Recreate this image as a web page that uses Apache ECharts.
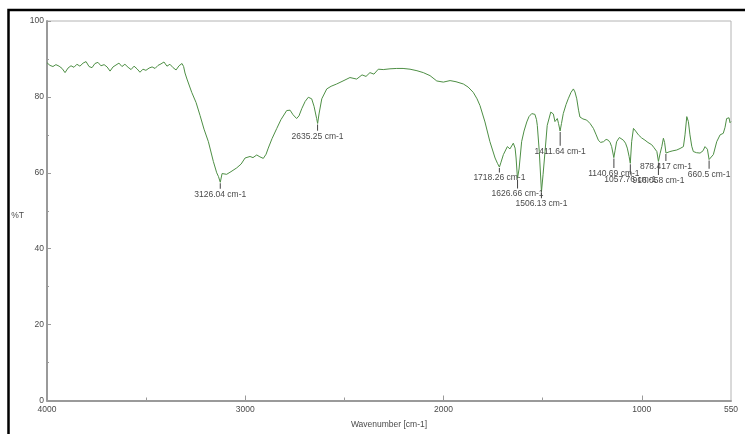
<!DOCTYPE html>
<html>
<head>
<meta charset="utf-8">
<script src="https://cdn.jsdelivr.net/npm/echarts@6/dist/echarts.min.js"></script>
<style>
html,body{margin:0;padding:0;background:#fff;}
#chart{width:745px;height:434px;}
</style>
</head>
<body>
<div id="chart"></div>
<script>
// ---- data ----
const wavenumbers = [
  4000,3985,3970,3955,3939,3924,3909,3894,3879,3864,3849,3834,3818,3803,3788,3773,3758,3743,3728,3712,
  3697,3682,3667,3652,3637,3622,3607,3591,3576,3561,3546,3531,3516,3501,3485,3470,3455,3440,3425,3410,
  3395,3380,3364,3349,3334,3319,3311,3304,3294,3270,3248,3228,3208,3186,3161,3144,3135,3126,3117,3094,
  3072,3043,3021,3001,2976,2961,2942,2926,2909,2895,2884,2865,2841,2820,2791,2774,2759,2741,2729,2715,
  2698,2682,2665,2653,2640,2635,2628,2614,2589,2567,2539,2507,2472,2438,2411,2391,2371,2351,2329,2304,
  2270,2236,2204,2169,2134,2102,2068,2034,2001,1967,1937,1900,1876,1850,1831,1816,1791,1766,1740,1728,
  1718,1710,1698,1678,1665,1648,1639,1634,1627,1619,1606,1594,1580,1569,1555,1539,1531,1527,1517,1506,
  1498,1488,1477,1459,1446,1438,1426,1420,1412,1405,1396,1382,1371,1357,1345,1337,1328,1319,1312,1297,
  1278,1261,1244,1230,1219,1208,1193,1180,1169,1160,1152,1141,1135,1127,1113,1105,1093,1082,1073,1064,
  1058,1051,1042,1031,1017,1001,984,969,950,938,924,916,908,899,891,885,878,870,858,843,
  824,807,790,782,773,765,757,748,740,724,706,691,681,669,660.5,651,639,622,605,589,
  580,572,560,555,550
];
const transmittance = [
  89.0,88.3,88.0,88.5,88.1,87.5,86.4,87.6,88.2,87.8,88.6,88.1,88.9,89.3,88.0,87.7,88.8,89.1,88.2,88.5,
  87.9,86.8,87.9,88.4,88.9,88.0,88.6,87.8,87.2,88.1,87.4,86.5,87.3,87.0,87.6,87.9,87.5,88.3,88.7,89.2,
  88.1,88.6,87.7,87.1,88.2,88.8,88.0,86.3,84.7,81.2,78.5,75.1,71.5,68.2,63.0,60.0,59.0,57.5,59.8,59.6,
  60.3,61.3,62.3,63.9,64.3,64.0,64.7,64.2,63.8,64.9,66.5,69.0,71.7,74.0,76.4,76.5,75.3,74.3,75.0,76.9,
  78.8,79.9,79.5,77.5,74.3,73.0,75.5,79.5,82.1,82.8,83.4,84.2,85.1,84.7,85.8,85.4,86.4,86.0,87.3,87.2,
  87.4,87.5,87.5,87.3,86.9,86.4,85.6,84.2,83.9,84.3,84.0,83.4,82.6,81.2,79.5,77.7,73.4,68.2,63.9,62.5,
  61.5,62.8,64.8,66.9,66.3,67.8,66.5,63.9,58.5,61.0,68.2,71.0,73.4,74.8,75.6,75.4,74.0,72.5,65.6,55.0,
  59.5,65.6,72.5,76.0,75.5,73.5,74.3,73.0,71.0,73.0,75.6,78.0,79.5,81.2,82.1,81.3,79.5,76.5,74.7,74.2,
  73.9,73.0,71.7,70.0,68.6,68.0,68.2,68.8,68.6,68.0,66.9,64.0,65.8,68.2,69.3,69.0,68.6,67.8,66.5,64.3,
  62.5,68.2,71.7,71.0,70.0,69.2,68.6,68.0,67.4,66.6,65.6,63.0,65.0,66.9,69.1,68.0,65.2,65.4,65.6,65.8,
  66.0,66.4,66.9,70.0,74.8,73.5,70.0,67.0,65.6,65.3,65.2,65.8,66.9,66.2,63.5,64.0,64.8,68.2,70.0,70.4,
  72.0,74.3,74.5,73.2,73.5
];
const peakWavenumbers = [3126.04, 2635.25, 1718.26, 1626.66, 1506.13, 1411.64, 1140.69, 1057.76, 916.058, 878.417, 660.5];
const peakTransmittance = [57.5, 73.0, 61.5, 58.5, 55.0, 71.0, 64.0, 62.5, 63.0, 65.2, 63.5];
const peakLabels = ['3126.04 cm-1','2635.25 cm-1','1718.26 cm-1','1626.66 cm-1','1506.13 cm-1','1411.64 cm-1','1140.69 cm-1','1057.76 cm-1','916.058 cm-1','878.417 cm-1','660.5 cm-1'];
const xLabelValues = [4000, 3000, 2000, 1000, 550];
const xMajorTicks = [3000, 2000, 1000];
const xMinorTicks = [3500, 2500, 1500];

// ---- layout (pixel drops of each peak label below its peak) ----
const peakLabelDrop = [12.5, 13.3, 11.5, 16, 12.5, 20.7, 16.4, 17.3, 19.5, 14, 15.2];

const FONT = 'Liberation Sans';
const TXT = '#4a4a4a';
const AX = '#9a9a9a';

const spectrum = wavenumbers.map((w, i) => [w, transmittance[i]]);
const peakPoints = peakWavenumbers.map((w, i) => {
  const len = Math.max(4, peakLabelDrop[i] - 7);
  return {
    coord: [w, peakTransmittance[i]],
    symbolSize: [1, len],
    symbolOffset: [0, len / 2 + 1],
    label: { formatter: peakLabels[i] }
  };
});

const chart = echarts.init(document.getElementById('chart'), null, {renderer: 'canvas'});
chart.setOption({
  animation: false,
  backgroundColor: '#fff',
  textStyle: { fontFamily: FONT },
  grid: { left: 47, right: 14, top: 21, bottom: 28, show: true, borderColor: '#b4b4b4', borderWidth: 1, backgroundColor: 'transparent' },
  graphic: [
    { type: 'rect', shape: { x: 8.5, y: 10, width: 900, height: 900 }, style: { fill: 'none', stroke: '#000', lineWidth: 2.5 }, silent: true }
  ],
  xAxis: [
    {
      type: 'value', inverse: true, min: 550, max: 4000, position: 'bottom',
      name: 'Wavenumber [cm-1]', nameLocation: 'middle', nameGap: 24,
      nameTextStyle: { color: TXT, fontSize: 8.5, fontFamily: FONT, align: 'center', verticalAlign: 'middle' },
      axisLine: { show: true, lineStyle: { color: AX, width: 2 } },
      axisTick: { show: true, inside: true, length: 5, customValues: xMajorTicks, lineStyle: { color: AX, width: 1 } },
      axisLabel: { show: true, customValues: xLabelValues, formatter: v => String(v), color: TXT, fontSize: 8.5, fontFamily: FONT, margin: 5 },
      splitLine: { show: false }
    },
    {
      type: 'value', inverse: true, min: 550, max: 4000, position: 'bottom', offset: 0,
      axisLine: { show: false },
      axisTick: { show: true, inside: true, length: 3, customValues: xMinorTicks, lineStyle: { color: AX, width: 1 } },
      axisLabel: { show: false },
      splitLine: { show: false }
    }
  ],
  yAxis: {
    type: 'value', min: 0, max: 100, interval: 20,
    name: '%T', nameLocation: 'middle', nameGap: 25, nameRotate: 0,
    nameTextStyle: { color: TXT, fontSize: 8.5, fontFamily: FONT, align: 'center', verticalAlign: 'top' },
    axisLine: { show: true, lineStyle: { color: AX, width: 2 } },
    axisTick: { show: true, inside: true, length: 4, lineStyle: { color: AX, width: 1 } },
    minorTick: { show: true, splitNumber: 2, length: 2, lineStyle: { color: AX, width: 1 } },
    axisLabel: { color: TXT, fontSize: 8.5, fontFamily: FONT, margin: 3 },
    splitLine: { show: false }
  },
  series: [{
    type: 'line',
    xAxisIndex: 0,
    data: spectrum,
    showSymbol: false,
    symbol: 'none',
    smooth: false,
    lineStyle: { color: '#4e8f45', width: 1 },
    itemStyle: { color: '#4e8f45' },
    markPoint: {
      silent: true,
      symbol: 'rect',
      itemStyle: { color: '#444' },
      label: { show: true, position: 'bottom', distance: 1, color: TXT, fontSize: 8.5, fontFamily: FONT },
      data: peakPoints
    }
  }]
});
</script>
</body>
</html>
